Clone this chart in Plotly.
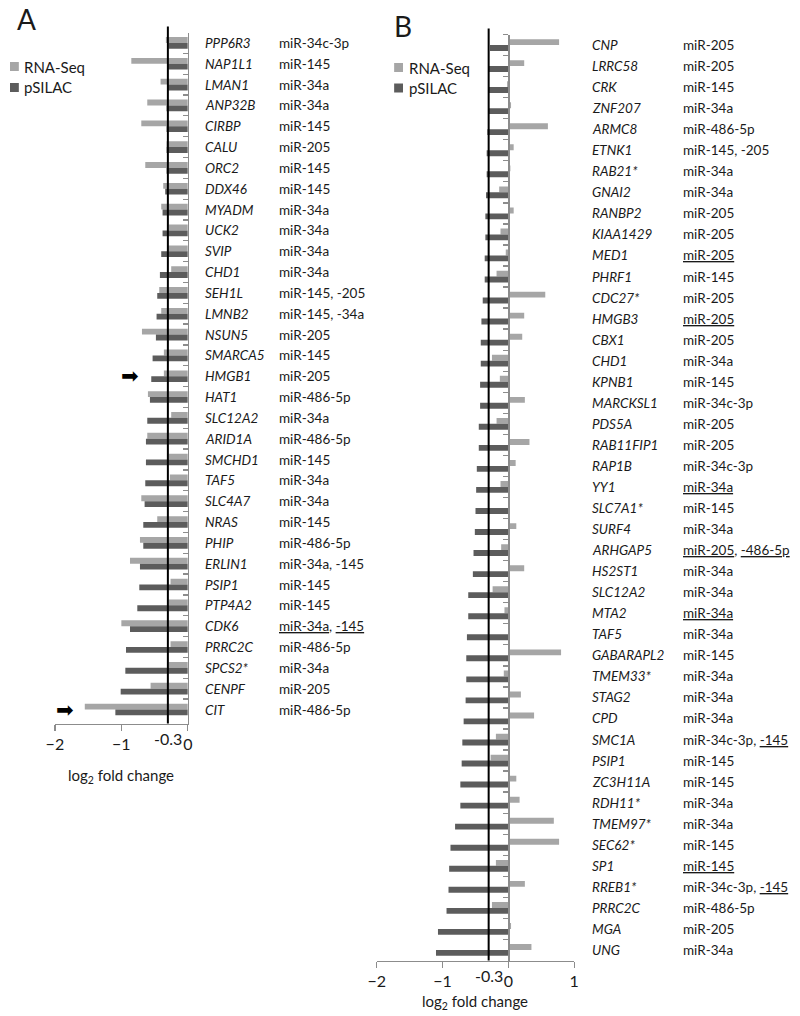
import plotly.graph_objects as go

# ---------------- data ----------------
genes_A = ["PPP6R3", "NAP1L1", "LMAN1", "ANP32B", "CIRBP", "CALU", "ORC2", "DDX46",
           "MYADM", "UCK2", "SVIP", "CHD1", "SEH1L", "LMNB2", "NSUN5", "SMARCA5",
           "HMGB1", "HAT1", "SLC12A2", "ARID1A", "SMCHD1", "TAF5", "SLC4A7", "NRAS",
           "PHIP", "ERLIN1", "PSIP1", "PTP4A2", "CDK6", "PRRC2C", "SPCS2*", "CENPF", "CIT"]
mir_A = ["miR-34c-3p", "miR-145", "miR-34a", "miR-34a", "miR-145", "miR-205", "miR-145",
         "miR-145", "miR-34a", "miR-34a", "miR-34a", "miR-34a", "miR-145, -205",
         "miR-145, -34a", "miR-205", "miR-145", "miR-205", "miR-486-5p", "miR-34a",
         "miR-486-5p", "miR-145", "miR-34a", "miR-34a", "miR-145", "miR-486-5p",
         "miR-34a, -145", "miR-145", "miR-145", "miR-34a, -145", "miR-486-5p",
         "miR-34a", "miR-205", "miR-486-5p"]
underlined_A = {"CDK6": ["miR-34a", "-145"]}
rna_A = [-0.33, -0.85, -0.41, -0.61, -0.70, -0.32, -0.64, -0.37, -0.40, -0.29, -0.31,
         -0.25, -0.43, -0.40, -0.69, -0.36, -0.36, -0.60, -0.25, -0.61, -0.29, -0.27,
         -0.70, -0.46, -0.72, -0.87, -0.26, -0.29, -1.00, -0.26, -0.29, -0.56, -1.55]
psilac_A = [-0.29, -0.31, -0.31, -0.32, -0.32, -0.32, -0.32, -0.34, -0.38, -0.38, -0.40,
            -0.42, -0.46, -0.47, -0.48, -0.53, -0.55, -0.57, -0.61, -0.63, -0.63, -0.64,
            -0.65, -0.67, -0.67, -0.72, -0.73, -0.76, -0.87, -0.93, -0.94, -1.01, -1.09]
arrows_A = ["HMGB1", "CIT"]

genes_B = ["CNP", "LRRC58", "CRK", "ZNF207", "ARMC8", "ETNK1", "RAB21*", "GNAI2", "RANBP2",
           "KIAA1429", "MED1", "PHRF1", "CDC27*", "HMGB3", "CBX1", "CHD1", "KPNB1",
           "MARCKSL1", "PDS5A", "RAB11FIP1", "RAP1B", "YY1", "SLC7A1*", "SURF4", "ARHGAP5",
           "HS2ST1", "SLC12A2", "MTA2", "TAF5", "GABARAPL2", "TMEM33*", "STAG2", "CPD",
           "SMC1A", "PSIP1", "ZC3H11A", "RDH11*", "TMEM97*", "SEC62*", "SP1", "RREB1*",
           "PRRC2C", "MGA", "UNG"]
mir_B = ["miR-205", "miR-205", "miR-145", "miR-34a", "miR-486-5p", "miR-145, -205",
         "miR-34a", "miR-34a", "miR-205", "miR-205", "miR-205", "miR-145", "miR-205",
         "miR-205", "miR-205", "miR-34a", "miR-145", "miR-34c-3p", "miR-205", "miR-205",
         "miR-34c-3p", "miR-34a", "miR-145", "miR-34a", "miR-205, -486-5p", "miR-34a",
         "miR-34a", "miR-34a", "miR-34a", "miR-145", "miR-34a", "miR-34a", "miR-34a",
         "miR-34c-3p, -145", "miR-145", "miR-145", "miR-34a", "miR-34a", "miR-145",
         "miR-145", "miR-34c-3p, -145", "miR-486-5p", "miR-205", "miR-34a"]
underlined_B = {"MED1": ["miR-205"], "HMGB3": ["miR-205"], "YY1": ["miR-34a"],
                "ARHGAP5": ["miR-205", "-486-5p"], "MTA2": ["miR-34a"],
                "SMC1A": ["-145"], "SP1": ["miR-145"], "RREB1*": ["-145"]}
rna_B = [0.77, 0.24, -0.02, 0.04, 0.60, 0.08, 0.03, -0.14, 0.08, -0.12, -0.04, -0.18,
         0.56, 0.24, 0.21, -0.25, -0.13, 0.25, -0.18, 0.32, 0.11, -0.12, 0.02, 0.12,
         -0.11, 0.24, -0.24, -0.06, 0.01, 0.80, -0.07, 0.19, 0.39, -0.19, -0.27, 0.12,
         0.17, 0.69, 0.77, -0.19, 0.25, -0.25, 0.04, 0.35]
psilac_B = [-0.28, -0.30, -0.31, -0.31, -0.32, -0.33, -0.33, -0.34, -0.35, -0.35, -0.36,
            -0.36, -0.39, -0.41, -0.42, -0.42, -0.43, -0.43, -0.45, -0.45, -0.48, -0.49,
            -0.50, -0.51, -0.53, -0.54, -0.61, -0.61, -0.63, -0.64, -0.64, -0.65, -0.68,
            -0.70, -0.71, -0.73, -0.73, -0.81, -0.88, -0.90, -0.91, -0.94, -1.07, -1.10]

threshold = -0.3
series_names = ["RNA-Seq", "pSILAC"]
xticks_A = [-2, -1, 0]
xticks_B = [-2, -1, 0, 1]

# ---------------- style ----------------
W, H = 800, 1016
FONT = "Lato, 'Open Sans', sans-serif"
LIGHT = "#A6A6A6"
DARK = "#5C5C5C"
AXC = "#8C8C8C"
TXT = "#1a1a1a"

def px_x(p):
    return p / W

def px_y(p):
    return 1 - p / H

domA_x = [px_x(46.7), px_x(182)]
domA_y = [px_y(723.5), px_y(32.5)]
domB_x = [px_x(374.3), px_x(575.3)]
domB_y = [px_y(960.5), px_y(34.5)]
posB = domB_x[0] + (0 - (-2)) / 3 * (domB_x[1] - domB_x[0])

def mir_markup(gene, text, under):
    out = text
    for p in under.get(gene, []):
        idx = out.find(p) if p.startswith("miR") else out.rfind(p)
        out = out[:idx] + "<u>" + p + "</u>" + out[idx + len(p):]
    return out

fig = go.Figure()
for genes, rna, ps, xa, ya in [(genes_A, rna_A, psilac_A, "x", "y"),
                               (genes_B, rna_B, psilac_B, "x2", "y2")]:
    fig.add_trace(go.Bar(y=genes, x=rna, orientation="h", name=series_names[0],
                         marker=dict(color=LIGHT, line=dict(width=0)), xaxis=xa, yaxis=ya,
                         showlegend=False))
    fig.add_trace(go.Bar(y=genes, x=ps, orientation="h", name=series_names[1],
                         marker=dict(color=DARK, line=dict(width=0)), xaxis=xa, yaxis=ya,
                         showlegend=False))

xcommon = dict(showline=True, linecolor=AXC, linewidth=1.5, ticks="outside", ticklen=6,
               tickcolor=AXC, tickwidth=1.3, showgrid=False, zeroline=False,
               tickfont=dict(family=FONT, size=16, color=TXT), fixedrange=True)
ycommon = dict(type="category", autorange="reversed", showline=True, linecolor=AXC,
               linewidth=1.5, tickson="boundaries", ticklen=5, tickcolor=AXC,
               tickwidth=1.3, showticklabels=False, showgrid=False, zeroline=False,
               fixedrange=True)

fig.update_layout(
    width=W, height=H, margin=dict(l=0, r=0, t=0, b=0),
    paper_bgcolor="white", plot_bgcolor="white",
    barmode="group", bargap=0.44, bargroupgap=0.0,
    font=dict(family=FONT, color=TXT),
    xaxis=dict(domain=domA_x, range=[-2, 0], tickvals=xticks_A, anchor="y", **xcommon),
    yaxis=dict(domain=domA_y, anchor="x", side="right", ticks="inside", **ycommon),
    xaxis2=dict(domain=domB_x, range=[-2, 1], tickvals=xticks_B, anchor="y2", **xcommon),
    yaxis2=dict(domain=domB_y, anchor="free", position=posB, side="left",
                ticks="outside", **ycommon),
)

shapes = []
shapes.append(dict(type="line", xref="x", yref="paper", x0=threshold, x1=threshold,
                   y0=domA_y[0], y1=domA_y[1] + 6 / H, line=dict(color="black", width=2),
                   layer="above"))
shapes.append(dict(type="line", xref="x2", yref="paper", x0=threshold, x1=threshold,
                   y0=domB_y[0], y1=domB_y[1] + 6 / H, line=dict(color="black", width=2),
                   layer="above"))

annotations = []
for g, m in zip(genes_A, mir_A):
    annotations.append(dict(xref="paper", yref="y", x=px_x(197), y=g, xanchor="left",
                            yanchor="middle", showarrow=False, text="<i>" + g + "</i>",
                            font=dict(family=FONT, size=13.5, color=TXT)))
    annotations.append(dict(xref="paper", yref="y", x=px_x(273), y=g, xanchor="left",
                            yanchor="middle", showarrow=False,
                            text=mir_markup(g, m, underlined_A),
                            font=dict(family=FONT, size=13.5, color=TXT)))
for g, m in zip(genes_B, mir_B):
    annotations.append(dict(xref="paper", yref="y2", x=px_x(591), y=g, xanchor="left",
                            yanchor="middle", showarrow=False, text="<i>" + g + "</i>",
                            font=dict(family=FONT, size=13.5, color=TXT)))
    annotations.append(dict(xref="paper", yref="y2", x=px_x(684), y=g, xanchor="left",
                            yanchor="middle", showarrow=False,
                            text=mir_markup(g, m, underlined_B),
                            font=dict(family=FONT, size=13.5, color=TXT)))

# arrows in panel A (block arrow glyph)
arrow_pos = {"HMGB1": -0.87, "CIT": -1.85}
for g in arrows_A:
    annotations.append(dict(xref="x", yref="y", x=arrow_pos[g], y=g, text="\u27A1",
                            showarrow=False, xanchor="center", yanchor="middle",
                            font=dict(family="DejaVu Sans", size=21, color="black")))

annotations.append(dict(xref="x", yref="paper", x=threshold, y=px_y(738), text="-0.3",
                        showarrow=False, font=dict(family=FONT, size=16, color=TXT),
                        xanchor="center", yanchor="middle"))
annotations.append(dict(xref="x2", yref="paper", x=threshold, y=px_y(975), text="-0.3",
                        showarrow=False, font=dict(family=FONT, size=16, color=TXT),
                        xanchor="center", yanchor="middle"))
annotations.append(dict(xref="paper", yref="paper", x=(domA_x[0] + domA_x[1]) / 2,
                        y=px_y(776), text="log<sub>2</sub> fold change", showarrow=False,
                        font=dict(family=FONT, size=15, color=TXT), xanchor="center",
                        yanchor="middle"))
annotations.append(dict(xref="paper", yref="paper", x=(domB_x[0] + domB_x[1]) / 2,
                        y=px_y(1002), text="log<sub>2</sub> fold change", showarrow=False,
                        font=dict(family=FONT, size=15, color=TXT), xanchor="center",
                        yanchor="middle"))
annotations.append(dict(xref="paper", yref="paper", x=px_x(6), y=px_y(0), text="A",
                        showarrow=False, font=dict(family=FONT, size=28, color=TXT),
                        xanchor="left", yanchor="top"))
annotations.append(dict(xref="paper", yref="paper", x=px_x(390), y=px_y(7), text="B",
                        showarrow=False, font=dict(family=FONT, size=28, color=TXT),
                        xanchor="left", yanchor="top"))

legend_specs = [(1, 13, LIGHT, series_names[0], 66.5), (1, 13, DARK, series_names[1], 87.5),
                (392, 405, LIGHT, series_names[0], 67.5), (392, 405, DARK, series_names[1], 88)]
for sx, tx, col, name, cy in legend_specs:
    shapes.append(dict(type="rect", xref="paper", yref="paper", x0=px_x(sx), x1=px_x(sx + 9),
                       y0=px_y(cy - 4.5), y1=px_y(cy + 4.5), fillcolor=col,
                       line=dict(width=0)))
    annotations.append(dict(xref="paper", yref="paper", x=px_x(tx), y=px_y(cy), text=name,
                            showarrow=False, xanchor="left", yanchor="middle",
                            font=dict(family=FONT, size=15, color=TXT)))

fig.update_layout(shapes=shapes, annotations=annotations)
fig.write_html("out.html", config={"displayModeBar": False, "staticPlot": True},
               post_script="document.body.style.margin='0';"
                           "document.body.style.overflow='hidden';")
